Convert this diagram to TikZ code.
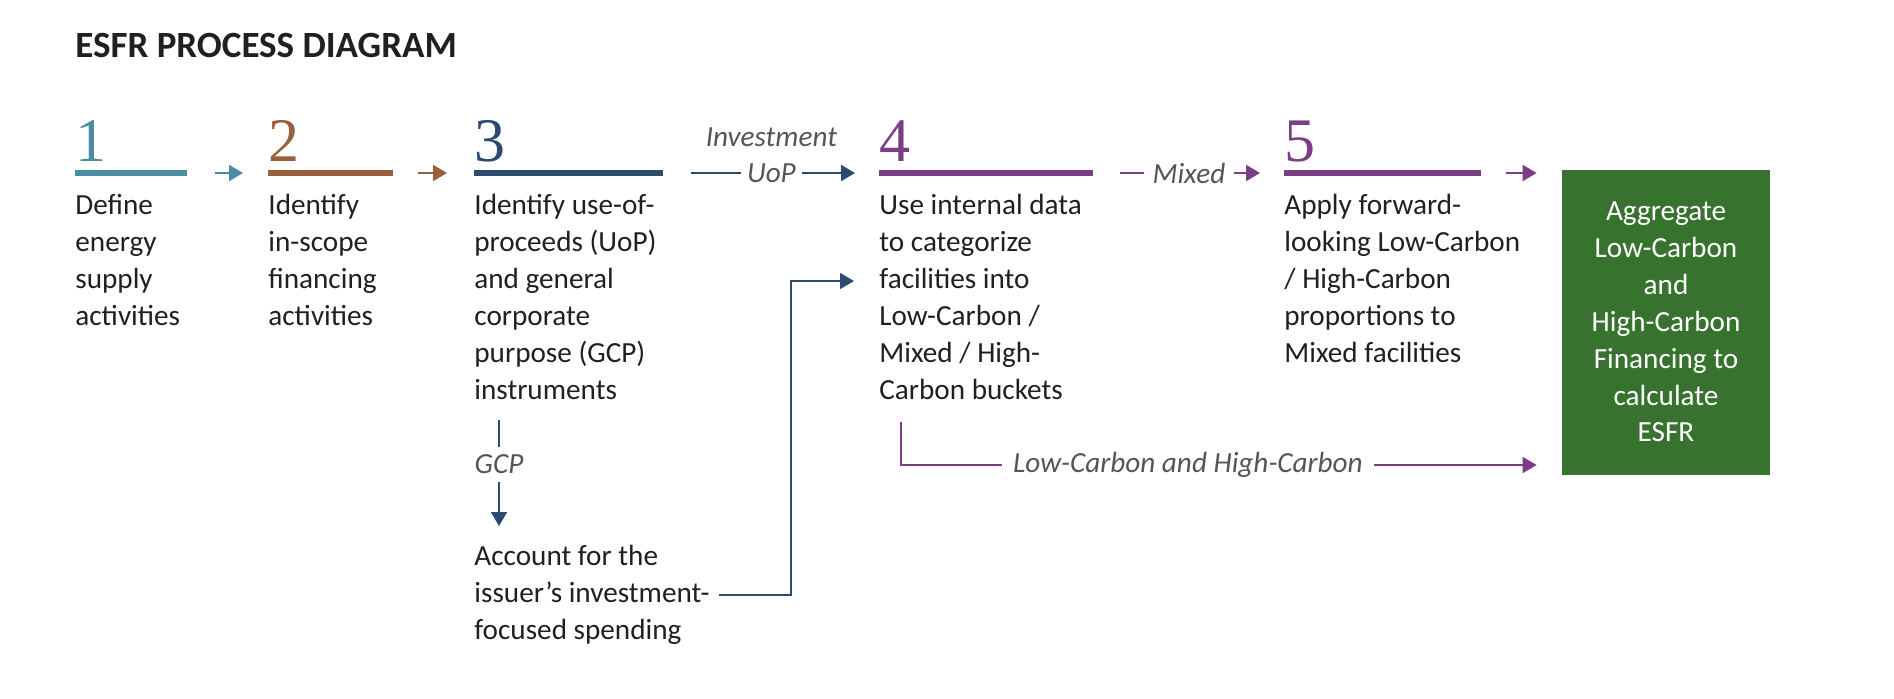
\documentclass[tikz,border=0pt]{standalone}
\usepackage{fontspec}
\setmainfont{Carlito}
\newfontfamily\numfont{Liberation Serif}
\usetikzlibrary{arrows.meta,calc}
\definecolor{ink}{HTML}{231F20}
\definecolor{lblgray}{HTML}{555555}
\definecolor{cA}{HTML}{4B8CA2}
\definecolor{cB}{HTML}{98603B}
\definecolor{cC}{HTML}{2C4B6E}
\definecolor{cD}{HTML}{7A3E86}
\definecolor{boxgreen}{HTML}{37722F}
\begin{document}
\begin{tikzpicture}[x=0.5pt,y=-0.5pt,
  txt/.style={font=\fontsize{14.6}{18.5}\selectfont, text=ink, align=left, inner sep=0pt, anchor=north west},
  num/.style={font=\numfont\fontsize{31}{31}\selectfont, inner sep=0pt, anchor=base west},
  bar/.style={inner sep=0pt, minimum height=3pt, anchor=west},
  lbl/.style={font=\itshape\fontsize{14.6}{18}\selectfont, text=lblgray, inner ysep=0pt, inner xsep=4pt},
  arr/.style={line width=1pt, -{Triangle[length=7pt,width=8pt]}},
  ln/.style={line width=0.8pt},
]
\useasboundingbox (0,0) rectangle (1894,698);
\node[font=\bfseries\fontsize{18.5}{20}\selectfont, text=ink, anchor=base west, inner sep=0pt] (title) at (75,57) {ESFR PROCESS DIAGRAM};

% numbers
\node[num, text=cA] (n1) at (75,161) {1};
\node[num, text=cB] (n2) at (268,161) {2};
\node[num, text=cC] (n3) at (474,161) {3};
\node[num, text=cD] (n4) at (879,161) {4};
\node[num, text=cD] (n5) at (1284,161) {5};

% bars
\node[bar, fill=cA, minimum width=56pt] (b1) at (75,173) {};
\node[bar, fill=cB, minimum width=62.5pt] (b2) at (268,173) {};
\node[bar, fill=cC, minimum width=94.5pt] (b3) at (474,173) {};
\node[bar, fill=cD, minimum width=107pt] (b4) at (879,173) {};
\node[bar, fill=cD, minimum width=98.5pt] (b5) at (1284,173) {};

% texts
\node[txt] (t1) at (75,194) {Define\\energy\\supply\\activities};
\node[txt] (t2) at (268,194) {Identify\\in-scope\\financing\\activities};
\node[txt] (t3) at (474,194) {Identify use-of-\\proceeds (UoP)\\and general\\corporate\\purpose (GCP)\\instruments};
\node[txt] (t4) at (879,194) {Use internal data\\to categorize\\facilities into\\Low-Carbon /\\Mixed / High-\\Carbon buckets};
\node[txt] (t5) at (1284,194) {Apply forward-\\looking Low-Carbon\\/ High-Carbon\\proportions to\\Mixed facilities};
\node[txt] (acc) at (474,545) {Account for the\\issuer’s investment-\\focused spending};

% green box
\node[fill=boxgreen, text=white, minimum width=104pt, minimum height=152.5pt, inner sep=0pt, align=center,
  font=\fontsize{14.6}{18.45}\selectfont] (box) at (1666,322) {Aggregate\\Low-Carbon\\and\\High-Carbon\\Financing to\\calculate\\ESFR};

% connectors along the top
\draw[arr, cA, shorten <=13.5pt, shorten >=12.5pt] (b1.east) -- (b2.west);
\draw[arr, cB, shorten <=12pt, shorten >=13.5pt] (b2.east) -- (b3.west);
\draw[arr, cC, shorten <=13.5pt, shorten >=12pt] (b3.east) -- (b4.west)
  node[midway, lbl, fill=white, inner xsep=3pt] {UoP}
  node[midway, lbl, yshift=18pt] {Investment};
\draw[arr, cD, shorten <=13pt, shorten >=12pt] (b4.east) -- (b5.west)
  node[midway, lbl, fill=white, inner xsep=4.5pt] {Mixed};
\draw[arr, cD, shorten <=12pt, shorten >=12.5pt] (b5.east) -- (b5.east -| box.west);

% GCP branch
\coordinate (g1) at (499,420);
\coordinate (g2) at (499,526);
\draw[arr, ln, cC] (g1) -- (g2) node[pos=0.42, lbl, fill=white, inner ysep=4pt] {GCP};

% account -> step 4
\coordinate (k1) at (791,281);
\coordinate (k2) at (854,281);
\draw[arr, ln, cC, shorten <=4.5pt] (acc.east) -| (k1) -- (k2);

% step 4 -> aggregate
\coordinate (l1) at (901,422);
\coordinate (l2) at (901,465);
\draw[arr, ln, cD, shorten >=12.5pt] (l1) |- (l2 -| box.west);
\node[lbl, fill=white, inner xsep=5.5pt] (lc) at (1188,465) {Low-Carbon and High-Carbon};
\end{tikzpicture}
\end{document}
